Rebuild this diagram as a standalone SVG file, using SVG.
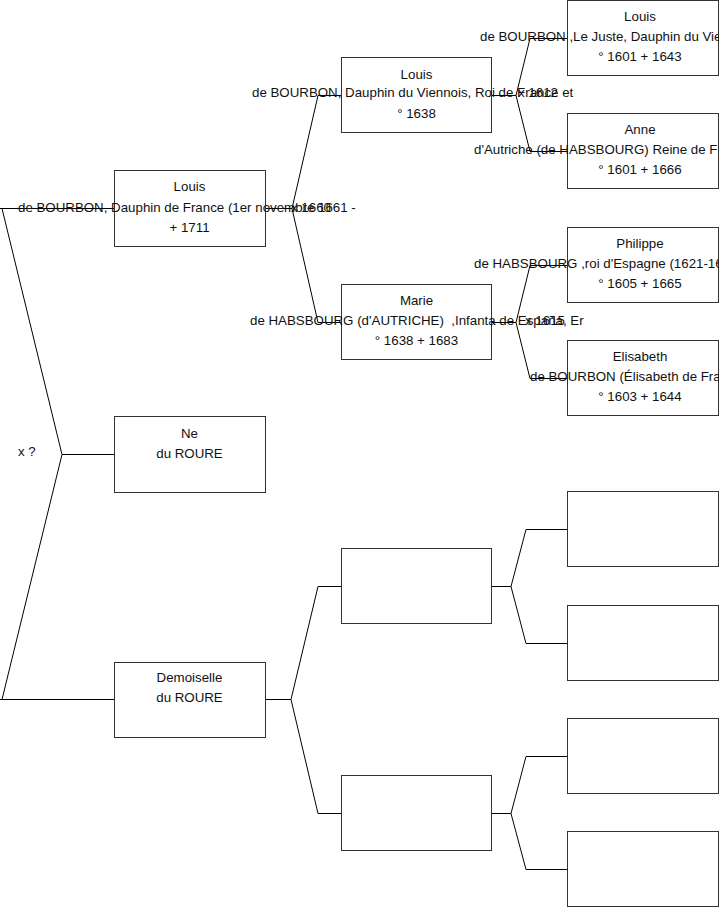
<svg xmlns="http://www.w3.org/2000/svg" width="719" height="908" viewBox="0 0 719 908">
<style>
.bg{fill:#fff}
.box{fill:#fff;stroke:#333;stroke-width:1}
.c{fill:none;stroke:#000;stroke-width:1}
text{font-family:"Liberation Sans",Arial,sans-serif;font-size:13.3px;fill:#111}
.m{text-anchor:middle}
.pre{white-space:pre}
</style>
<rect class="bg" x="0" y="0" width="719" height="908"/>
<g id="connectors">
<path class="c" d="M0,208.5 H114.5 M2,208.5 L62,454.5 L2,699.5 M62,454.5 H114.5 M0,699.5 H114.5"/>
<path class="c" d="M265.5,208.5 H292 M318,95.5 L292,208.5 L318,322.5 M318,95.5 H341.5 M318,322.5 H341.5"/>
<path class="c" d="M265.5,699.5 H291 M318,586.5 L291,699.5 L318,813.5 M318,586.5 H341.5 M318,813.5 H341.5"/>
<path class="c" d="M491.5,95.5 H516 M530,38.5 L516,95.5 L530,151.5 M530,38.5 H567.5 M530,151.5 H567.5"/>
<path class="c" d="M491.5,322.5 H516 M530,265.5 L516,322.5 L530,378.5 M530,265.5 H567.5 M530,378.5 H567.5"/>
<path class="c" d="M491.5,586.5 H511 M526,529.5 L511,586.5 L526,643.5 M526,529.5 H567.5 M526,643.5 H567.5"/>
<path class="c" d="M491.5,813.5 H511 M526,756.5 L511,813.5 L526,869.5 M526,756.5 H567.5 M526,869.5 H567.5"/>
</g>
<g id="label-root"><text x="18" y="456">x ?</text></g>
<g id="node-louis-1">
<rect class="box" x="114.5" y="170.5" width="151" height="76"/>
<text class="m" x="189.5" y="191">Louis</text>
<text x="18" y="211.5">de BOURBON, Dauphin de France (1er novembre 1661 -</text>
<text class="m" x="189.5" y="231.5">+ 1711</text>
<text x="291" y="211.5">x 1660</text>
</g>
<g id="node-ne">
<rect class="box" x="114.5" y="416.5" width="151" height="76"/>
<text class="m" x="189.5" y="437.5">Ne</text>
<text class="m" x="189.5" y="457.5">du ROURE</text>
</g>
<g id="node-demoiselle">
<rect class="box" x="114.5" y="662.5" width="151" height="75"/>
<text class="m" x="189.5" y="682">Demoiselle</text>
<text class="m" x="189.5" y="702">du ROURE</text>
</g>
<g id="node-louis-2">
<rect class="box" x="341.5" y="57.5" width="150" height="75"/>
<text class="m" x="416.5" y="78.5">Louis</text>
<text x="252" y="97">de BOURBON, Dauphin du Viennois, Roi de France et</text>
<text class="m" x="416.5" y="117.5">° 1638</text>
<text x="518" y="97">x 1612</text>
</g>
<g id="node-marie">
<rect class="box" x="341.5" y="284.5" width="150" height="75"/>
<text class="m" x="416.5" y="304.5">Marie</text>
<text class="pre" x="250" y="324.5" xml:space="preserve">de HABSBOURG (d'AUTRICHE)  ,Infanta de España, Er</text>
<text class="m" x="416.5" y="344.5">° 1638 + 1683</text>
<text x="525" y="324.5">x 1615</text>
</g>
<g id="node-blank-2a"><rect class="box" x="341.5" y="548.5" width="150" height="75"/></g>
<g id="node-blank-2b"><rect class="box" x="341.5" y="775.5" width="150" height="75"/></g>
<g id="node-louis-3">
<rect class="box" x="567.5" y="0.5" width="151" height="75"/>
<text class="m" x="640" y="21">Louis</text>
<text x="480" y="40.5">de BOURBON ,Le Juste, Dauphin du Vie</text>
<text class="m" x="640" y="60.5">° 1601 + 1643</text>
</g>
<g id="node-anne">
<rect class="box" x="567.5" y="113.5" width="151" height="75"/>
<text class="m" x="640" y="133.5">Anne</text>
<text x="474" y="153.5">d'Autriche (de HABSBOURG) Reine de F</text>
<text class="m" x="640" y="174">° 1601 + 1666</text>
</g>
<g id="node-philippe">
<rect class="box" x="567.5" y="227.5" width="151" height="75"/>
<text class="m" x="640" y="248">Philippe</text>
<text x="474" y="268">de HABSBOURG ,roi d'Espagne (1621-16</text>
<text class="m" x="640" y="288">° 1605 + 1665</text>
</g>
<g id="node-elisabeth">
<rect class="box" x="567.5" y="340.5" width="151" height="75"/>
<text class="m" x="640" y="361">Elisabeth</text>
<text x="530" y="381">de BOURBON (Élisabeth de Fra</text>
<text class="m" x="640" y="401">° 1603 + 1644</text>
</g>
<g id="node-blank-3a"><rect class="box" x="567.5" y="491.5" width="151" height="75"/></g>
<g id="node-blank-3b"><rect class="box" x="567.5" y="605.5" width="151" height="75"/></g>
<g id="node-blank-3c"><rect class="box" x="567.5" y="718.5" width="151" height="75"/></g>
<g id="node-blank-3d"><rect class="box" x="567.5" y="831.5" width="151" height="75"/></g>
</svg>
